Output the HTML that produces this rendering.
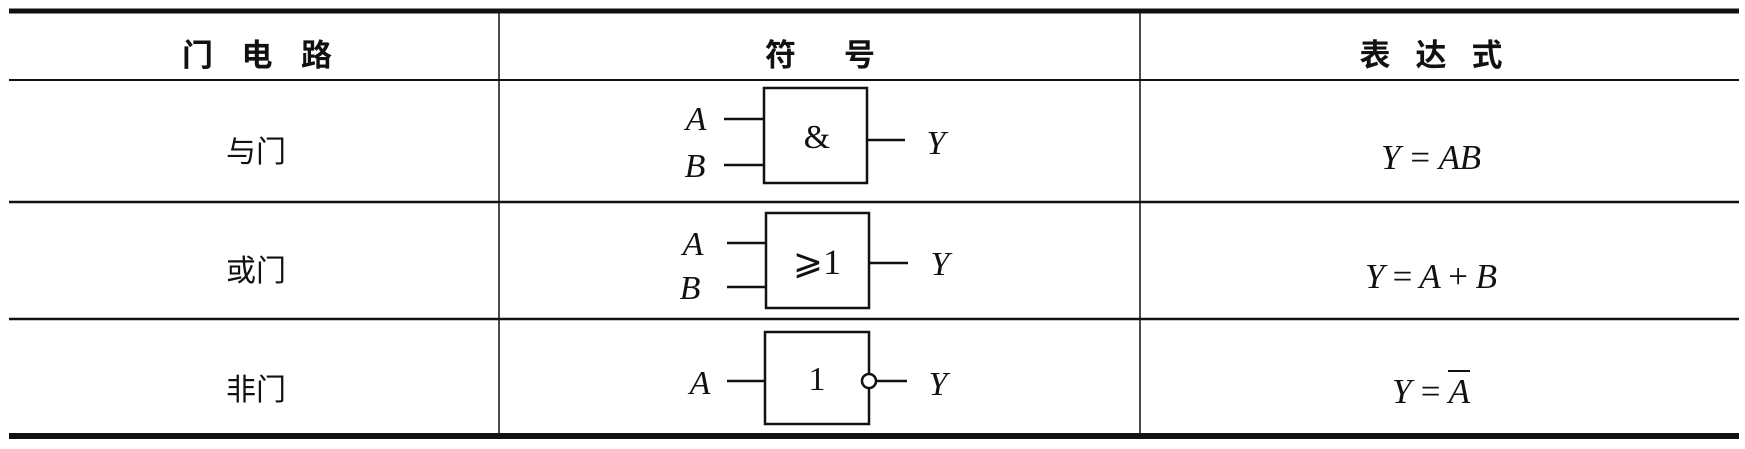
<!DOCTYPE html>
<html><head><meta charset="utf-8"><style>
html,body{margin:0;padding:0;background:#fff;width:1745px;height:449px;overflow:hidden}
svg{display:block}
.cj{font-family:"Liberation Sans","Noto Sans CJK SC",sans-serif;fill:#111}
.m{font-family:"Liberation Serif",serif;font-style:italic;fill:#111}
.r{font-family:"Liberation Serif",serif;fill:#111}
</style></head><body>
<svg width="1745" height="449" viewBox="0 0 1745 449" xmlns="http://www.w3.org/2000/svg">
<g stroke="#111" fill="none">
<line x1="9" y1="11" x2="1739" y2="11" stroke-width="5"/>
<line x1="9" y1="80" x2="1739" y2="80" stroke-width="2"/>
<line x1="9" y1="202" x2="1739" y2="202" stroke-width="2.5"/>
<line x1="9" y1="319" x2="1739" y2="319" stroke-width="2.5"/>
<line x1="9" y1="436" x2="1739" y2="436" stroke-width="6"/>
<line x1="499" y1="13" x2="499" y2="434" stroke-width="1.5"/>
<line x1="1140" y1="13" x2="1140" y2="434" stroke-width="1.5"/>
<g stroke-width="2.5">
<rect x="764" y="88" width="103" height="95"/>
<line x1="724" y1="119" x2="764" y2="119"/>
<line x1="724" y1="165" x2="764" y2="165"/>
<line x1="867" y1="140" x2="905" y2="140"/>
<rect x="766" y="213" width="103" height="95"/>
<line x1="727" y1="243" x2="766" y2="243"/>
<line x1="727" y1="287" x2="766" y2="287"/>
<line x1="869" y1="263" x2="908" y2="263"/>
<rect x="765" y="332" width="104" height="92"/>
<line x1="727" y1="381" x2="765" y2="381"/>
<line x1="876" y1="381" x2="907" y2="381"/>
<circle cx="869" cy="381" r="7" fill="#fff"/>
</g>
</g>
<text class="cj" x="257" y="66" font-size="31" font-weight="bold" text-anchor="middle" textLength="150">门 电 路</text>
<text class="cj" x="820" y="66" font-size="31" font-weight="bold" text-anchor="middle" textLength="110">符 号</text>
<text class="cj" x="1431" y="66" font-size="31" font-weight="bold" text-anchor="middle" textLength="143">表 达 式</text>
<text class="cj" x="256" y="162" font-size="30" text-anchor="middle" fill="#222">与门</text>
<text class="cj" x="256" y="281" font-size="30" text-anchor="middle" fill="#222">或门</text>
<text class="cj" x="256" y="400" font-size="30" text-anchor="middle" fill="#222">非门</text>
<text class="m" x="696" y="130" font-size="34" text-anchor="middle">A</text>
<text class="m" x="695" y="177" font-size="34" text-anchor="middle">B</text>
<text class="r" x="817" y="148" font-size="34" text-anchor="middle">&amp;</text>
<text class="m" x="936" y="154" font-size="34" text-anchor="middle">Y</text>
<text class="m" x="693" y="255" font-size="34" text-anchor="middle">A</text>
<text class="m" x="690" y="299" font-size="34" text-anchor="middle">B</text>
<text class="r" x="817" y="274" font-size="36" text-anchor="middle">⩾1</text>
<text class="m" x="940" y="275" font-size="34" text-anchor="middle">Y</text>
<text class="m" x="700" y="394" font-size="34" text-anchor="middle">A</text>
<text class="r" x="817" y="390" font-size="34" text-anchor="middle">1</text>
<text class="m" x="938" y="395" font-size="34" text-anchor="middle">Y</text>
<text class="m" x="1431" y="169" font-size="35" text-anchor="middle" textLength="100">Y = AB</text>
<text class="m" x="1431" y="288" font-size="35" text-anchor="middle" textLength="132">Y = A + B</text>
<text class="m" x="1431" y="403" font-size="35" text-anchor="middle" textLength="78">Y = A</text>
<line x1="1448" y1="371" x2="1470" y2="371" stroke="#111" stroke-width="2"/>
</svg>
</body></html>
